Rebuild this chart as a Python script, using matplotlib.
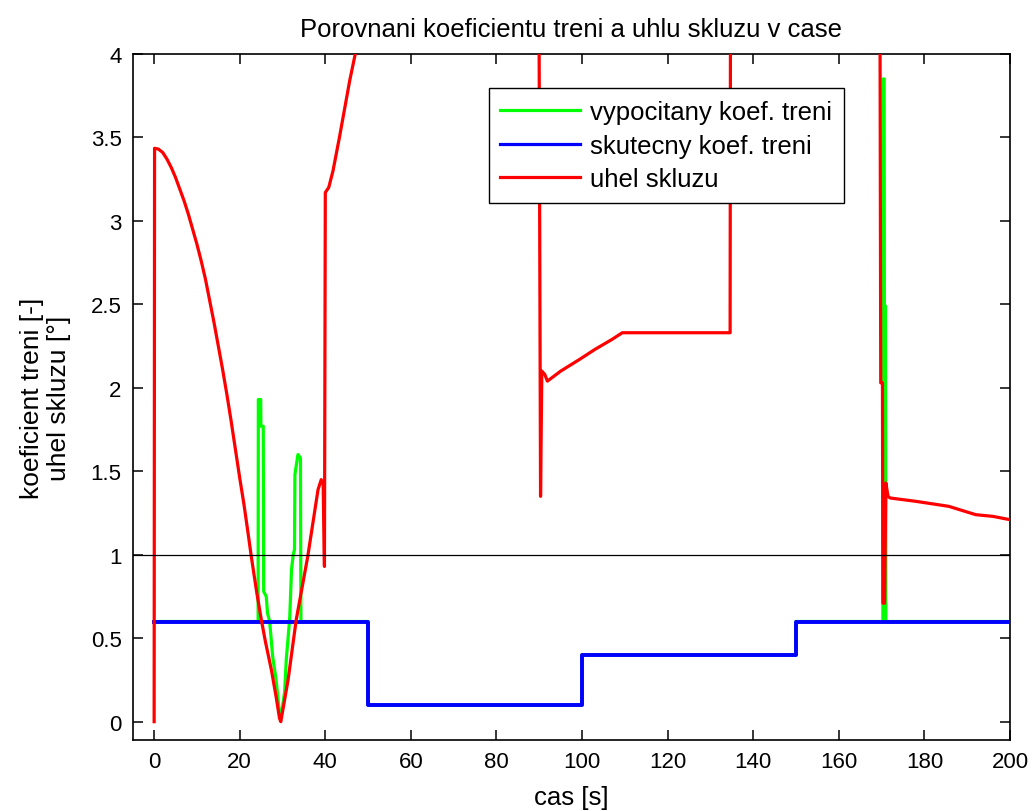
import matplotlib
matplotlib.use("Agg")
import matplotlib.pyplot as plt
import numpy as np

# skutecny koef. treni (step changes)
t_real = [0, 50, 100, 150, 200]
mu_real = [0.6, 0.1, 0.4, 0.6, 0.6]

# vypocitany koef. treni
t_est = [0, 24.3, 24.35, 24.9, 24.95, 25.5, 25.6, 26.2, 26.5, 27.0, 27.7, 28.5,
         28.9, 29.3, 29.8, 30.5, 30.9, 31.3, 31.7, 32.1, 32.5, 32.8, 32.9, 33.6,
         34.2, 34.3, 50, 50, 100, 100, 150, 150, 170.3, 170.35, 170.6, 170.65,
         170.9, 171.0, 200]
mu_est = [0.6, 0.6, 1.93, 1.93, 1.77, 1.77, 0.78, 0.75, 0.65, 0.6, 0.39, 0.25,
          0.15, 0.05, 0.05, 0.18, 0.38, 0.5, 0.63, 0.91, 1.0, 1.03, 1.48, 1.6,
          1.58, 0.6, 0.6, 0.1, 0.1, 0.4, 0.4, 0.6, 0.6, 3.85, 3.85, 2.49,
          2.49, 0.6, 0.6]

# uhel skluzu
t_slip = [0, 0.1, 1, 2, 3, 4, 5, 6, 7, 8, 9, 10, 11, 12, 13, 14, 15, 16, 17,
          18, 19, 20, 21, 22, 22.7, 24, 25.05, 26, 27.4, 28.5, 29.3, 29.6,
          31.3, 33.2, 35.9, 38.3, 39.05, 39.5, 39.8, 40.0, 40.8, 41.8, 43.3,
          45.7, 47.0, 48.5, 89.9, 90.3, 90.6, 91.3, 91.9, 95, 99.4, 103, 107,
          109.4, 134.6, 134.7, 169.6, 169.8, 170.2, 170.3, 170.7, 171.0, 171.5,
          172, 178, 185.7, 192, 196, 200]
slip = [0, 3.435, 3.43, 3.41, 3.37, 3.32, 3.26, 3.19, 3.12, 3.04, 2.95, 2.86,
        2.76, 2.65, 2.52, 2.39, 2.25, 2.11, 1.96, 1.80, 1.63, 1.46, 1.30, 1.12,
        0.99, 0.77, 0.61, 0.48, 0.31, 0.15, 0.02, 0.0,
        0.25, 0.61, 0.99, 1.39, 1.45, 1.42, 0.93, 3.17, 3.2, 3.3, 3.5,
        3.84, 4.0, 4.2, 4.6, 1.35, 2.1, 2.08, 2.04, 2.1, 2.17, 2.23, 2.29,
        2.33, 2.33, 4.6, 4.6, 2.03, 2.03, 0.71, 0.71, 1.43, 1.35,
        1.34, 1.32, 1.29, 1.24, 1.23, 1.21]

plt.rcParams["font.family"] = ["Liberation Sans", "DejaVu Sans"]

fig = plt.figure(figsize=(10.33, 8.12), dpi=100)
ax = fig.add_axes([0.1285, 0.0874, 0.8492, 0.8449])

ax.plot(t_est, mu_est, color="#00ff00", lw=2.3, label="vypocitany koef. treni",
        zorder=2)
ax.step(t_real, mu_real, where="post", color="#0000ff", lw=2.8,
        label="skutecny koef. treni", zorder=3)
ax.plot(t_slip, slip, color="#ff0000", lw=2.3, label="uhel skluzu", zorder=4)
ax.axhline(1, color="black", lw=0.9, zorder=5)

ax.set_xlim(-5, 200)
ax.set_ylim(-0.11, 4)
ax.set_xticks(np.arange(0, 201, 20))
ax.set_yticks(np.arange(0, 4.01, 0.5))
ax.set_yticklabels(["0", "0.5", "1", "1.5", "2", "2.5", "3", "3.5", "4"])
ax.tick_params(direction="in", length=7, width=1.1, labelsize=16,
               top=True, right=True, pad=8)
for s in ax.spines.values():
    s.set_linewidth(1.2)

ax.set_title("Porovnani koeficientu treni a uhlu skluzu v case", fontsize=18.5,
             pad=13)
ax.set_xlabel("cas [s]", fontsize=18.5, labelpad=9)
ax.set_ylabel("koeficient treni [-]\nuhel skluzu [°]", fontsize=19,
              labelpad=14, linespacing=1.15)

leg = ax.legend(loc="upper left", bbox_to_anchor=(0.406, 0.95), fontsize=18.5,
                fancybox=False, framealpha=1, edgecolor="black",
                handlelength=3.1, handletextpad=0.4, borderpad=0.45,
                labelspacing=0.38, borderaxespad=0)
leg.get_frame().set_linewidth(1.0)
for h in leg.get_lines():
    h.set_linewidth(2.3)

fig.savefig("out.png", dpi=100)
